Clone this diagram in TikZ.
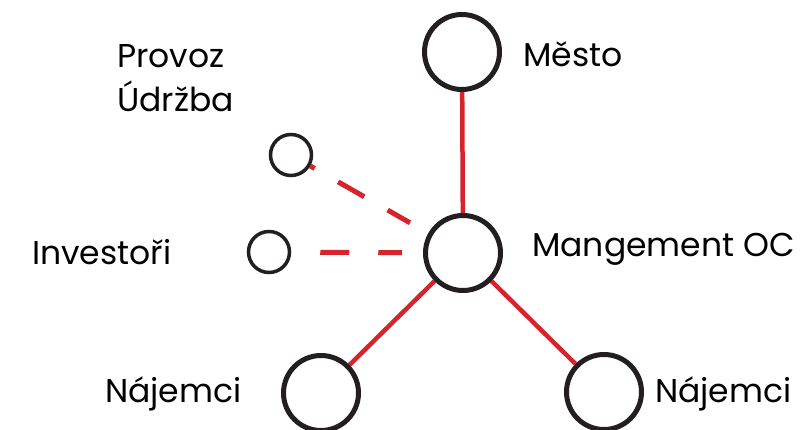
\documentclass[tikz,border=0pt]{standalone}
\usepackage{fontspec}
\setmainfont{Poppins}
\usetikzlibrary{positioning, backgrounds}
\definecolor{linkred}{HTML}{D7232E}
\definecolor{ringdark}{HTML}{231F20}

\begin{document}
\begin{tikzpicture}[
    x=1pt, y=-1pt,
    ring/.style={
        circle,
        draw=ringdark,
        line width=5pt,
        fill=white,
        inner sep=0pt,
        minimum size=75pt
    },
    smallring/.style={
        circle,
        draw=ringdark,
        line width=3.5pt,
        fill=white,
        inner sep=0pt,
        minimum size=41pt
    },
    lbl/.style={
        anchor=base west,
        inner sep=0pt,
        align=left,
        font=\fontsize{33}{44}\selectfont
    },
    link/.style={draw=linkred, line width=4.5pt},
    weaklink/.style={draw=linkred, line width=5pt, shorten >=21pt}
]
\useasboundingbox (0,0) rectangle (811,430);

% Main actors
\node[ring] (mesto) at (462,52) {};
\node[lbl] (mesto_txt) at (523,67) {Město};
\node[ring] (mgmt) at (463,253) {};
\node[lbl] (mgmt_txt) at (532,257) {Mangement OC};

% Tenants
\node[ring] (najemL) at (321,393) {};
\node[lbl] (najemL_txt) at (105,402) {Nájemci};
\node[ring] (najemR) at (604,392) {};
\node[lbl] (najemR_txt) at (655,402) {Nájemci};

% Side parties
\node[smallring] (provoz) at (291,155) {};
\node[lbl] (provoz_txt) at (117,112) {Provoz\\Údržba};
\node[smallring] (invest) at (269,252) {};
\node[lbl] (invest_txt) at (32,265) {Investoři};

% Links
\begin{scope}[on background layer]
\draw[link] (mesto) -- (mgmt);
\draw[link] (mgmt) -- (najemL);
\draw[link] (mgmt) -- (najemR);
\draw[weaklink, dash pattern=on 30pt off 27pt, dash phase=25pt] (provoz) -- (mgmt);
\draw[weaklink, dash pattern=on 29pt off 29pt, dash phase=29pt] (invest) -- (mgmt);
\end{scope}

\end{tikzpicture}
\end{document}
